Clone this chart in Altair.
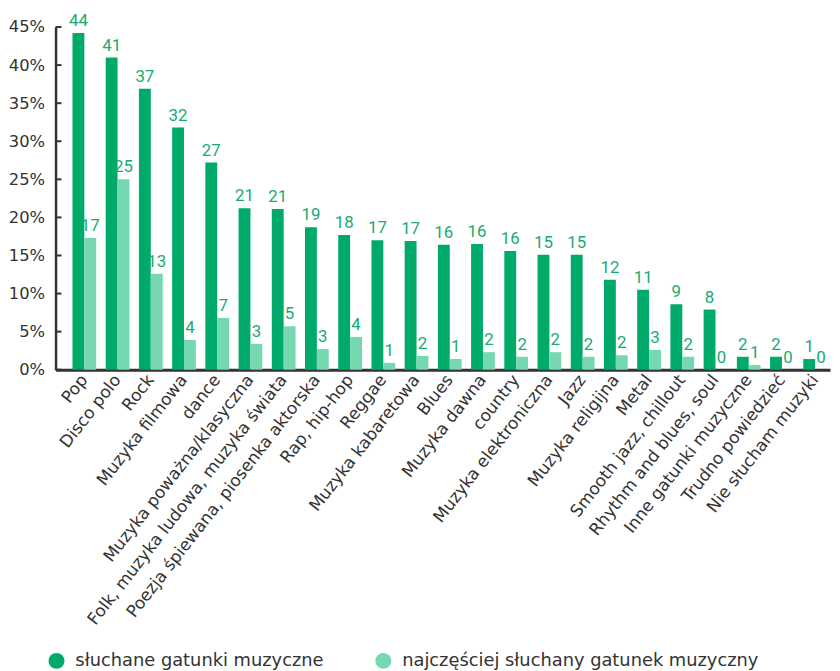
import altair as alt
import pandas as pd

categories = ["Pop", "Disco polo", "Rock", "Muzyka filmowa", "dance",
              "Muzyka poważna/klasyczna", "Folk, muzyka ludowa, muzyka świata",
              "Poezja śpiewana, piosenka aktorska", "Rap, hip-hop", "Reggae",
              "Muzyka kabaretowa", "Blues", "Muzyka dawna", "country",
              "Muzyka elektroniczna", "Jazz", "Muzyka religijna", "Metal",
              "Smooth jazz, chillout", "Rhythm and blues, soul",
              "Inne gatunki muzyczne", "Trudno powiedzieć", "Nie słucham muzyki"]
listened = [44.2, 41.0, 36.9, 31.8, 27.2, 21.2, 21.1, 18.7, 17.7, 17.0, 16.9, 16.4,
            16.5, 15.6, 15.1, 15.1, 11.8, 10.5, 8.6, 7.9, 1.7, 1.7, 1.4]
listened_labels = [44, 41, 37, 32, 27, 21, 21, 19, 18, 17, 17, 16, 16, 16, 15, 15,
                   12, 11, 9, 8, 2, 2, 1]
favourite = [17.3, 25.0, 12.6, 3.9, 6.8, 3.4, 5.7, 2.7, 4.3, 0.9, 1.8, 1.4, 2.3,
             1.7, 2.3, 1.7, 1.9, 2.6, 1.7, 0.0, 0.6, 0.0, 0.0]
favourite_labels = [17, 25, 13, 4, 7, 3, 5, 3, 4, 1, 2, 1, 2, 2, 2, 2, 2, 3, 2, 0,
                    1, 0, 0]
series = ["słuchane gatunki muzyczne", "najczęściej słuchany gatunek muzyczny"]
colors = ["#00aa6b", "#76d8b1"]
y_ticks = [0, 5, 10, 15, 20, 25, 30, 35, 40, 45]

rows = []
for i, c in enumerate(categories):
    rows.append({"cat": c, "series": series[0], "value": listened[i], "label": listened_labels[i]})
    rows.append({"cat": c, "series": series[1], "value": favourite[i], "label": favourite_labels[i]})
df = pd.DataFrame(rows)
ticks_df = pd.DataFrame({"t": y_ticks})

FONT = "DejaVu Sans"
NUM_FONT = "Roboto"

x_axis = alt.Axis(labelAngle=-52, labelFontSize=17, labelColor="#333333",
                  labelFont=FONT, ticks=False, domainColor="#333333",
                  domainWidth=3, labelPadding=7, labelLimit=400, labelOverlap=False)
y_axis = alt.Axis(values=y_ticks, labelExpr="datum.value + '%'", labelFontSize=16.5,
                  labelColor="#333333", labelFont=FONT, ticks=False, grid=False,
                  domainColor="#333333", domainWidth=2.5, labelPadding=11,
                  labelOverlap=False, tickCount=10, title=None)
x_scale = alt.Scale(paddingInner=0.285, paddingOuter=0.3, align=0.85)
y_scale = alt.Scale(domain=[0, 45], nice=False)
xoff = alt.XOffset("series:N", sort=series, scale=alt.Scale(paddingInner=0, paddingOuter=0))

bars = alt.Chart(df).mark_bar().encode(
    x=alt.X("cat:N", sort=categories, title=None, scale=x_scale, axis=x_axis),
    xOffset=xoff,
    y=alt.Y("value:Q", scale=y_scale, title=None, axis=y_axis),
    color=alt.Color("series:N", sort=series, scale=alt.Scale(domain=series, range=colors),
                    legend=alt.Legend(title=None, orient="none", direction="horizontal",
                                      legendX=-8, legendY=631, symbolType="circle",
                                      symbolSize=260, symbolStrokeWidth=0,
                                      labelFontSize=18, labelFont=FONT, labelColor="#333333",
                                      labelOffset=10, columnPadding=51, labelLimit=400)),
)

labels = alt.Chart(df).mark_text(baseline="bottom", dy=-3, fontSize=17, font=NUM_FONT,
                                 color="#17ab71").encode(
    x=alt.X("cat:N", sort=categories, title=None, scale=x_scale, axis=x_axis),
    xOffset=xoff,
    y=alt.Y("value:Q", scale=y_scale, title=None, axis=y_axis),
    text=alt.Text("label:Q"),
)

tick_marks = alt.Chart(ticks_df).mark_rule(color="#333333", strokeWidth=2).encode(
    x=alt.value(0), x2=alt.value(6),
    y=alt.Y("t:Q", scale=y_scale, title=None, axis=y_axis))

chart = alt.layer(bars, labels, tick_marks).properties(
    width=782, height=346,
    autosize=alt.AutoSizeParams(type="none"),
    padding={"left": 48, "top": 16, "right": 2, "bottom": 300},
).configure_view(stroke=None)

chart.save("out.html", embed_options={"renderer": "svg", "actions": False})
